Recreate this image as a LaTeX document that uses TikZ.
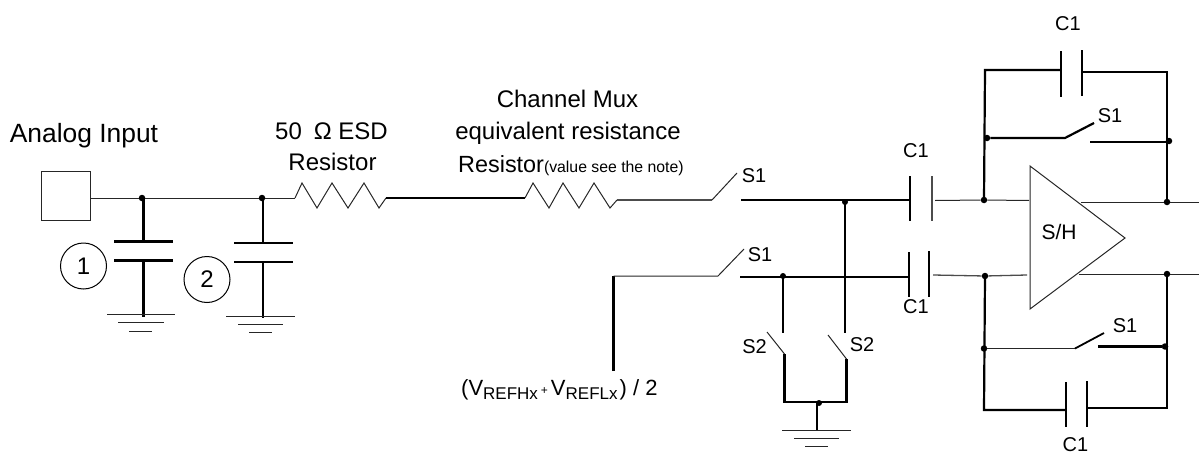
\documentclass[tikz,border=0pt]{standalone}
\usepackage{fontspec}
\setmainfont{Liberation Sans}
\newcommand{\fsz}[1]{\fontsize{#1}{#1}\selectfont}
\tikzset{
  thinw/.style={line width=1pt,draw=black!85},
  thickw/.style={line width=2.2pt,draw=black,line cap=butt},
  medw/.style={line width=1.8pt,draw=black!70},
  jdot/.style={circle,fill=black,inner sep=0pt,minimum size=6.5pt},
  lbl/.style={inner sep=0pt,anchor=base,font=\fsz{24}},
  sm/.style={inner sep=0pt,font=\fsz{20}},
  numc/.style={circle,draw=black,line width=1pt,minimum size=46pt,inner sep=0pt,font=\fsz{24}},
}
\begin{document}
\begin{tikzpicture}[x=1pt,y=-1pt]
\useasboundingbox (0,0) rectangle (1199,455);
% --- input
\node[draw=black!85,line width=1pt,minimum size=49pt,inner sep=0pt] (pad) at (65.5,195.5) {};
\node[jdot] (j1) at (142,198) {};
\node[jdot] (j2) at (262,198) {};
\coordinate (r1a) at (295,198);
\coordinate (r1b) at (386,198);
\coordinate (r2a) at (525,198);
\coordinate (r2b) at (617,200);
\draw[thinw] (pad.east |- j1) -- (j1) -- (j2) -- (r1a);
\draw[thinw] (r1a) -- ++(7,-15) -- ++(15,25) -- ++(15,-25) -- ++(16,25) -- ++(16,-25) -- ++(15,25) -- (r1b);
\draw[thickw] (r1b) -- (r2a);
\draw[thinw] (r2a) -- ++(8,-15) -- ++(16,25) -- ++(14,-25) -- ++(16,25) -- ++(15,-25) -- ++(16,25) -- (r2b);
% --- cap 1
\coordinate (c1t) at (143.5,241);
\coordinate (c1b) at (143.5,260.5);
\draw[thickw] (143.5,198) -- (c1t);
\draw[thickw] (c1b) -- (143.5,317);
\draw[line width=3pt] (114,241) -- (173,241);
\draw[line width=3pt] (114,260.5) -- (173,260.5);
\draw[thinw] (107,314) -- (175,314) (118,322.5) -- (164,322.5) (129,331) -- (152,331);
% --- cap 2
\coordinate (c2t) at (263,243);
\coordinate (c2b) at (263,262);
\draw[thickw] (263,198) -- (c2t);
\draw[thickw] (c2b) -- (263,318);
\draw[line width=2pt] (234,243) -- (293,243);
\draw[line width=2pt] (234,262) -- (293,262);
\draw[thinw] (226,316) -- (295,316) (238,324) -- (283,324) (249,332) -- (272,332);
\node[numc] (n1) at (83.5,266) {1};
\node[numc] (n2) at (207,279.5) {2};
% --- labels left
\node[lbl,font=\fsz{26.4}] (tAI) at (84,142) {Analog Input};
\node[lbl] (t50) at (331.5,139) {50\hspace{0.5em}Ω ESD};
\node[lbl] (tRes) at (332.5,170.5) {Resistor};
\node[lbl] (tCM) at (567.5,107) {Channel Mux};
\node[lbl] (tEq) at (568,139) {equivalent resistance};
\node[inner sep=0pt,anchor=base west] (tRV) at (458,172) {\fsz{23.4}Resistor\fsz{15.8}(value see the note)};
% --- top input switch
\coordinate (sa) at (712,200);
\coordinate (sae) at (737,173);
\coordinate (sb) at (741,200);
\node[sm] (tS1a) at (754,176) {S1};
\node[jdot,minimum size=6pt] (j3) at (845,202) {};
\coordinate (c3a) at (910,200);
\draw[medw] (r2b) -- (sa);
\draw[thinw] (sa) -- (sae);
\draw[thickw] (sb) -- (c3a);
% --- lower input switch
\coordinate (vt) at (613.5,371);
\coordinate (vc) at (613.5,276);
\coordinate (sc) at (718,276);
\coordinate (sce) at (744,249);
\coordinate (sd) at (740,277);
\coordinate (c4a) at (909,277);
\node[sm] (tS1b) at (760,255) {S1};
\node[jdot,minimum size=6pt] (j4) at (783,276) {};
\draw[thickw] (vt) -- (vc);
\draw[thinw] (vc) -- (sc) -- (sce);
\draw[thickw] (sd) -- (c4a);
\node[inner sep=0pt,anchor=base west] (tV) at (461,395) {\fsz{22}(V\raisebox{-4pt}{\fsz{17}REFHx}\hspace{3pt}\raisebox{1pt}{\fsz{12}+}\hspace{3pt}V\raisebox{-4pt}{\fsz{17}REFLx}\hspace{2pt}) / 2};
% --- S2 switches and ground
\coordinate (s2ra) at (845,333);
\coordinate (s2rb) at (828,335);
\coordinate (s2rc) at (846.5,359);
\coordinate (s2la) at (783,333);
\coordinate (s2lb) at (767,332);
\coordinate (s2lc) at (784.5,354);
\coordinate (bl) at (784.5,402);
\coordinate (br) at (846.5,402);
\node[jdot,minimum size=6pt] (j5) at (819,403) {};
\coordinate (g3) at (817,431);
\draw[thickw] (j3.center) ++(0,-2) -- (s2ra);
\draw[thickw] (j4.center) -- (s2la);
\draw[thinw] (s2rb) -- (s2rc);
\draw[thinw] (s2lb) -- (s2lc);
\draw[thickw,line join=miter] (s2lc) -- (bl) -- (br) -- (s2rc);
\draw[thickw] (817,403) -- (g3);
\draw[thinw] (782,430) -- (851,430) (794,438.5) -- (839,438.5) (805,446) -- (828,446);
\node[sm] (tS2l) at (754.5,347) {S2};
\node[sm] (tS2r) at (862,345) {S2};
% --- series caps
\draw[line width=1.6pt] (910,176) -- (910,221);
\draw[line width=1.2pt,draw=black!70] (932,176) -- (932,221);
\draw[line width=1.8pt] (909,252) -- (909,297);
\draw[line width=1.8pt] (929,251) -- (929,297);
\node[sm] (tC1a) at (916,151) {C1};
\node[sm] (tC1b) at (916,307) {C1};
% --- amp
\node[jdot] (j6) at (984,200) {};
\node[jdot] (j7) at (985,276) {};
\draw[thinw,line join=miter] (1030,166) coordinate (tA) -- (1125,238) coordinate (tB) -- (1030,309) coordinate (tC) -- cycle;
\node[sm,font=\fsz{21}] (tSH) at (1059,232) {S/H};
\draw[thinw] (935,200.5) -- (j6) -- (1029,200.5);
\draw[medw,line width=1.3pt] (933,275) -- (j7) -- (1027,275);
\node[jdot] (j8) at (1167,202) {};
\node[jdot] (j9) at (1167,274) {};
\coordinate (oa) at (1081,202);
\coordinate (ob) at (1079,274);
\coordinate (oae) at (1199,202);
\coordinate (obe) at (1199,274);
\draw[thinw] (oa) -- (j8) -- (oae);
\draw[thinw] (ob) -- (j9) -- (obe);
% --- upper feedback
\coordinate (u1) at (985,70);
\coordinate (u2) at (1061,70);
\coordinate (u3) at (1082,72);
\coordinate (u4) at (1167,72);
\draw[thickw,line join=miter] (j6.center) -- (u1) -- (u2);
\draw[thickw,line join=miter] (u3) -- (u4) -- (j8.center);
\draw[thickw,line width=1.8pt] (1061,51) -- (1061,97);
\draw[thickw,line width=1.8pt] (1082,50) -- (1082,96);
\node[sm] (tC1c) at (1068,24) {C1};
\node[jdot] (j10) at (987,138) {};
\node[jdot] (j11) at (1169,141) {};
\coordinate (s3a) at (1065,138);
\coordinate (s3b) at (1094,123);
\coordinate (s3c) at (1090,142);
\draw[thickw] (j10) -- (s3a) -- (s3b);
\draw[thickw] (s3c) -- (j11.center |- s3c);
\node[sm] (tS1c) at (1110,116) {S1};
% --- lower feedback
\coordinate (l1) at (984,410);
\coordinate (l2) at (1066,410);
\coordinate (l3) at (1087,408);
\coordinate (l4) at (1167,408);
\draw[thickw,line join=miter] (j7.center) -- (l1) -- (l2);
\draw[thickw,line join=miter] (l3) -- (l4) -- (j9.center);
\draw[thickw,line width=1.8pt] (1066,382) -- (1066,427);
\draw[thickw,line width=1.8pt] (1087,381) -- (1087,427);
\node[sm] (tC1d) at (1075.5,444.5) {C1};
\node[jdot] (j12) at (984,348.5) {};
\node[jdot] (j13) at (1165,346.5) {};
\coordinate (s4a) at (1075,348.5);
\coordinate (s4b) at (1104,333);
\coordinate (s4c) at (1098,346.5);
\draw[thinw,line width=1.4pt] (j12) -- (s4a);
\draw[line width=1.8pt] (s4a) -- (s4b);
\draw[thickw] (s4c) -- (j13);
\node[sm] (tS1d) at (1125,326) {S1};
\end{tikzpicture}
\end{document}
